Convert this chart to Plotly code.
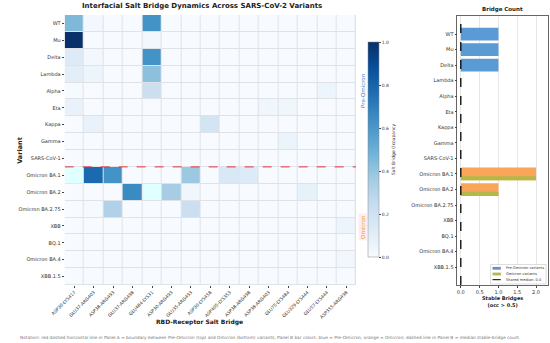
import plotly.graph_objects as go
import plotly.colors as pc
import numpy as np

W, H = 550, 343
def px(x): return x / W
def py(y): return 1 - y / H

variants = ["WT", "Mu", "Delta", "Lambda", "Alpha", "Eta", "Kappa", "Gamma", "SARS-CoV-1",
            "Omicron BA.1", "Omicron BA.2", "Omicron BA.2.75", "XBB", "BQ.1", "Omicron BA.4", "XBB.1.5"]
n_pre_omicron = 9

bridges = ["ASP30-LYS417", "GLU37-ARG403", "ASP38-ARG493", "GLU37-ARG498", "GLU484-LYS31",
           "ASP30-ARG493", "GLU35-ARG493", "ASP30-LYS458", "ASP405-LYS353", "ASP38-ARG498",
           "ASP38-ARG403", "GLU75-LYS484", "GLU329-LYS444", "GLU57-LYS444", "ASP355-ARG498"]

# occupancy matrix: rows = variants, cols = bridges
occupancy = [
    [0.45, 0.02, 0, 0, 0.62, 0, 0, 0, 0, 0, 0, 0, 0, 0, 0],          # WT
    [1.00, 0, 0, 0, 0.03, 0, 0, 0, 0, 0, 0, 0, 0, 0, 0],             # Mu
    [0.13, 0.02, 0, 0, 0.62, 0, 0, 0, 0, 0, 0, 0, 0, 0, 0],          # Delta
    [0.10, 0.05, 0, 0, 0.42, 0, 0, 0, 0, 0, 0, 0, 0, 0, 0],          # Lambda
    [0.01, 0, 0, 0, 0.22, 0, 0, 0, 0, 0, 0, 0, 0, 0.05, 0],          # Alpha
    [0.07, 0, 0, 0, 0, 0, 0, 0, 0, 0, 0.04, 0.04, 0, 0, 0],          # Eta
    [0, 0.07, 0, 0, 0, 0, 0, 0.18, 0, 0, 0, 0, 0, 0, 0],             # Kappa
    [0, 0, 0, 0, 0, 0, 0, 0, 0, 0, 0, 0.06, 0, 0, 0],                # Gamma
    [0, 0, 0, 0, 0, 0, 0, 0, 0, 0, 0, 0, 0, 0, 0],                   # SARS-CoV-1
    [0.02, 0.78, 0.62, 0, 0, 0, 0.38, 0, 0.15, 0.13, 0, 0, 0, 0, 0], # Omicron BA.1
    [0, 0, 0, 0.65, 0, 0.35, 0.04, 0, 0, 0, 0, 0, 0.08, 0, 0],       # Omicron BA.2
    [0, 0.01, 0.32, 0, 0, 0, 0.22, 0, 0, 0, 0, 0, 0, 0, 0],          # Omicron BA.2.75
    [0, 0, 0, 0, 0, 0, 0, 0, 0, 0, 0, 0, 0, 0, 0.05],                # XBB
    [0, 0, 0, 0, 0, 0, 0, 0, 0, 0, 0, 0, 0, 0, 0],                   # BQ.1
    [0, 0, 0, 0, 0, 0, 0, 0, 0, 0, 0, 0, 0, 0, 0.03],                # Omicron BA.4
    [0, 0, 0, 0, 0, 0, 0, 0, 0, 0, 0, 0, 0, 0, 0],                   # XBB.1.5
]

stable_bridges = [1, 1, 1, 0, 0, 0, 0, 0, 0, 2, 1, 0, 0, 0, 0, 0]
highlight_cells = [(9, 0), (10, 4)]  # (variant index, bridge index)

blue_bar = "#5b9bd5"
orange_bar = "#f9a65a"
olive_bar = "#b3b847"
font = "DejaVu Sans"

blues = pc.sequential.Blues
cscale = [[i / (len(blues) - 1), c] for i, c in enumerate(blues)]

fig = go.Figure()

fig.add_trace(go.Heatmap(
    z=occupancy, x=list(range(len(bridges))), y=list(range(len(variants))),
    colorscale=cscale, zmin=0, zmax=1, xgap=1, ygap=1,
    xaxis="x", yaxis="y",
    colorbar=dict(
        x=px(363), xanchor="left", y=py(149.5), yanchor="middle", xpad=0, ypad=0,
        len=215 / H, lenmode="fraction", thickness=11, thicknessmode="pixels",
        outlinewidth=0.5, outlinecolor="#888",
        tickvals=[0, 0.2, 0.4, 0.6, 0.8, 1.0],
        ticktext=["0.0", "0.2", "0.4", "0.6", "0.8", "1.0"],
        ticks="outside", ticklen=2, tickwidth=0.5, tickcolor="#444",
        tickfont=dict(size=4.5, color="#333", family=font),
        title=dict(text="Salt Bridge Occupancy", side="right",
                   font=dict(size=4.5, color="#333", family=font)),
    ),
    showscale=True,
))

idx = np.arange(len(variants))
stable = np.array(stable_bridges)
pre_mask = idx < n_pre_omicron
omi_mask = ~pre_mask

fig.add_trace(go.Bar(
    x=stable[pre_mask], y=idx[pre_mask], orientation="h", width=0.82,
    marker=dict(color=blue_bar, line=dict(width=0)),
    xaxis="x2", yaxis="y2", showlegend=False))
fig.add_trace(go.Bar(
    x=stable[omi_mask], y=idx[omi_mask], orientation="h", width=0.82,
    marker=dict(color=orange_bar, line=dict(width=0)),
    xaxis="x2", yaxis="y2", showlegend=False))
fig.add_trace(go.Bar(
    x=stable[omi_mask], y=idx[omi_mask], orientation="h", width=0.27, offset=0.14,
    marker=dict(color=olive_bar, line=dict(width=0)),
    xaxis="x2", yaxis="y2", showlegend=False))

median_val = float(np.median(stable))
y2_range = [16.14, -1.16]
fig.add_trace(go.Scatter(
    x=[median_val, median_val], y=y2_range, mode="lines",
    line=dict(color="black", width=1.3, dash="dash"),
    xaxis="x2", yaxis="y2", showlegend=False))

shapes = []
# heatmap background (gap lines)
shapes.append(dict(type="rect", xref="x", yref="y", x0=-0.5, x1=len(bridges) - 0.5,
                   y0=-0.5, y1=len(variants) - 0.5, fillcolor="#dfe3e8",
                   line=dict(width=0), layer="below"))
for (r, c) in highlight_cells:
    shapes.append(dict(type="rect", xref="x", yref="y", x0=c - 0.5 + 0.03, x1=c + 0.5 - 0.03,
                       y0=r - 0.5 + 0.03, y1=r + 0.5 - 0.03, fillcolor="#e0ffff",
                       line=dict(width=0), layer="above"))
# boundary line
shapes.append(dict(type="line", xref="x", yref="y", x0=-0.5, x1=len(bridges) - 0.5,
                   y0=n_pre_omicron - 0.5, y1=n_pre_omicron - 0.5,
                   line=dict(color="#e0333c", width=1, dash="dash")))

# manual legend for panel B
lx0, lx1, ly0, ly1 = 489, 546, 264.5, 284
shapes.append(dict(type="rect", xref="paper", yref="paper", x0=px(lx0), x1=px(lx1),
                   y0=py(ly1), y1=py(ly0), fillcolor="rgba(255,255,255,0.85)",
                   line=dict(color="#bbb", width=0.5)))
leg_items = [("Pre-Omicron variants", "#7088d4", "patch"),
             ("Omicron variants", olive_bar, "patch"),
             ("Shared median: 0.0", "black", "line")]
annotations = []
for i, (lab, col, kind) in enumerate(leg_items):
    yy = 268.3 + i * 5.7
    if kind == "patch":
        shapes.append(dict(type="rect", xref="paper", yref="paper", x0=px(491), x1=px(499.5),
                           y0=py(yy + 1.4), y1=py(yy - 1.4), fillcolor=col, line=dict(width=0)))
    else:
        shapes.append(dict(type="line", xref="paper", yref="paper", x0=px(491), x1=px(499.5),
                           y0=py(yy), y1=py(yy), line=dict(color=col, width=1, dash="dash")))
    annotations.append(dict(x=px(502.5), y=py(yy), xref="paper", yref="paper", text=lab,
                            showarrow=False, xanchor="left", yanchor="middle",
                            font=dict(size=3.6, color="#333", family=font)))

annotations += [
    dict(x=px(192.5), y=py(6.5), text="<b>Interfacial Salt Bridge Dynamics Across SARS-CoV-2 Variants</b>",
         font=dict(size=7, color="#222", family=font)),
    dict(x=px(501), y=py(9.5), text="<b>Bridge Count</b>", font=dict(size=5.5, color="#222", family=font)),
    dict(x=px(6), y=py(150), text="<b>Variant</b>", textangle=-90,
         font=dict(size=6.5, color="#222", family=font)),
    dict(x=px(190), y=py(321.5), text="<b>RBD-Receptor Salt Bridge</b>",
         font=dict(size=6, color="#222", family=font)),
    dict(x=px(501), y=py(301), text="<b>Stable Bridges<br>(occ > 0.5)</b>",
         font=dict(size=5, color="#222", family=font)),
    dict(x=px(358), y=py(90), text="Pre-Omicron", textangle=-90,
         font=dict(size=5.5, color="#3b7dc4", family=font)),
    dict(x=px(358), y=py(227), text="Omicron", textangle=-90, bgcolor="rgba(255,215,228,0.45)",
         font=dict(size=5.5, color="#d9a520", family=font)),
    dict(x=px(263), y=py(337.5),
         text="Notation: red dashed horizontal line in Panel A = boundary between Pre-Omicron (top) and Omicron (bottom) variants; "
              "Panel B bar colors: blue = Pre-Omicron, orange = Omicron; dashed line in Panel B = median stable-bridge count.",
         font=dict(size=4.3, color="#777", family=font)),
]
for a in annotations:
    a.setdefault("xref", "paper")
    a.setdefault("yref", "paper")
    a.setdefault("showarrow", False)
    a.setdefault("xanchor", "center")
    a.setdefault("yanchor", "middle")

fig.update_layout(
    width=W, height=H, margin=dict(l=0, r=0, t=0, b=0),
    paper_bgcolor="white", plot_bgcolor="white",
    font=dict(family=font, color="#333"),
    barmode="overlay", showlegend=False,
    xaxis=dict(domain=[px(52), px(351)], range=[-0.5, len(bridges) - 0.5],
               tickvals=list(range(len(bridges))), ticktext=bridges, tickangle=-45,
               tickfont=dict(size=4.5, color="#333"), ticks="outside", ticklen=2,
               tickwidth=0.5, tickcolor="#444", showgrid=False, zeroline=False, showline=False),
    yaxis=dict(domain=[py(285), py(15)], range=[len(variants) - 0.5, -0.5],
               tickvals=list(range(len(variants))), ticktext=variants,
               tickfont=dict(size=5, color="#333"), ticks="outside", ticklen=2,
               tickwidth=0.5, tickcolor="#444", showgrid=False, zeroline=False, showline=False),
    xaxis2=dict(domain=[px(455), px(548)], anchor="y2", range=[-0.09, 2.32],
                tickvals=[0, 0.5, 1, 1.5, 2], ticktext=["0.0", "0.5", "1.0", "1.5", "2.0"],
                tickfont=dict(size=5, color="#333"), ticks="outside", ticklen=2,
                tickwidth=0.5, tickcolor="#444", showgrid=True, gridcolor="#e6e6e6", gridwidth=0.5,
                zeroline=False, showline=True, mirror=True, linecolor="#666", linewidth=0.7),
    yaxis2=dict(domain=[py(285), py(16)], anchor="x2", range=y2_range,
                tickvals=list(range(len(variants))), ticktext=variants,
                tickfont=dict(size=5, color="#333"), ticks="outside", ticklen=2,
                tickwidth=0.5, tickcolor="#444", showgrid=False, zeroline=False,
                showline=True, mirror=True, linecolor="#666", linewidth=0.7),
    shapes=shapes, annotations=annotations,
)

fig.write_html("out.html", config={"displayModeBar": False},
               post_script="document.body.style.margin='0px'; document.body.style.overflow='hidden';")
